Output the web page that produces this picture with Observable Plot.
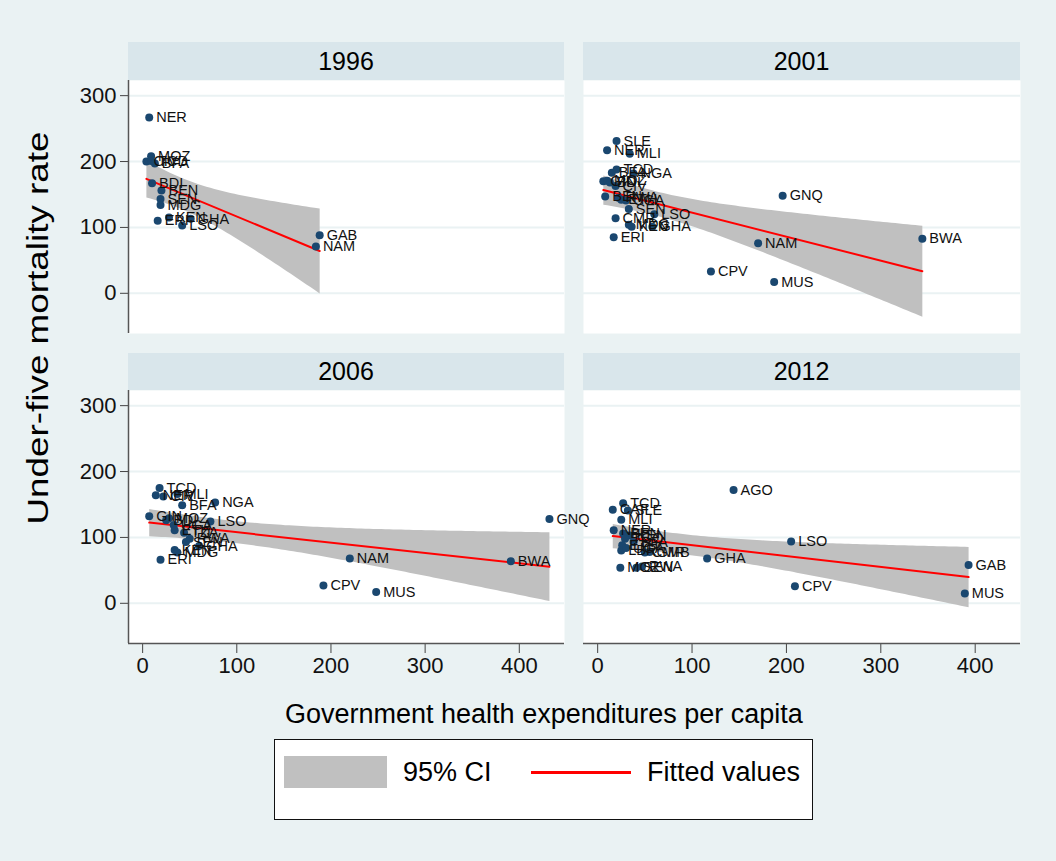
<!DOCTYPE html>
<html>
<head>
<meta charset="utf-8">
<script src="https://cdn.jsdelivr.net/npm/d3@7"></script>
<script src="https://cdn.jsdelivr.net/npm/@observablehq/plot@0.6"></script>
<style>
  html, body { margin: 0; padding: 0; background: #EAF2F3; }
  #root { position: relative; width: 1056px; height: 861px; background: #EAF2F3; overflow: hidden;
          font-family: "Liberation Sans", Arial, sans-serif; color: #000; }
  .hdr { position: absolute; background: #D9E6EB; text-align: center; font-size: 25px; line-height: 38px; }
  .panel { position: absolute; }
  .ytitle { position: absolute; font-size: 30px; white-space: nowrap; transform-origin: center center; }
  .xtitle { position: absolute; font-size: 27px; white-space: nowrap; }
  .legend { position: absolute; background: #fff; border: 1.5px solid #111; box-sizing: border-box; }
  .legend div { position: absolute; }
</style>
</head>
<body>
<div id="root"></div>
<script>
// ---- data ----
const years = ["1996", "2001", "2006", "2012"];

const iso1996  = ["NER","MOZ","CIV","TCD","BFA","BDI","BEN","SEN","MDG","ERI","KEN","GHA","LSO","GAB","NAM"];
const gov1996  = [7, 9, 4, 9, 13, 10, 20, 19, 19, 16, 28, 51, 42, 188, 184];
const u5mr1996 = [267, 208, 200, 201, 197, 167, 156, 143, 134, 110, 115, 113, 103, 88, 71];

const iso2001  = ["SLE","NER","MLI","TCD","BFA","NGA","GIN","MOZ","BDI","CIV","BEN","RWA","ETH","UGA","SEN","LSO","CMR","MDG","KEN","GHA","ERI","NAM","GNQ","BWA","CPV","MUS"];
const gov2001  = [20, 10, 34, 20, 15, 38, 6, 10, 13, 19, 8, 22, 25, 30, 33, 60, 19, 33, 36, 58, 17, 170, 196, 344, 120, 187];
const u5mr2001 = [231, 217, 212, 188, 183, 182, 170, 171, 168, 163, 147, 145, 142, 141, 128, 120, 114, 104, 101, 101, 85, 76, 148, 83, 33, 17];

const iso2006  = ["TCD","NER","CIV","MLI","BFA","NGA","GIN","MOZ","BDI","UGA","LSO","ETH","TZA","RWA","SEN","GHA","KEN","MDG","ERI","GNQ","NAM","BWA","CPV","MUS"];
const gov2006  = [18, 14, 22, 37, 42, 77, 7, 28, 25, 33, 72, 34, 44, 50, 46, 60, 34, 37, 19, 432, 220, 391, 192, 248];
const u5mr2006 = [175, 164, 162, 166, 149, 153, 132, 129, 126, 119, 124, 111, 107, 98, 93, 87, 81, 77, 66, 128, 68, 64, 27, 17];

const iso2012  = ["AGO","TCD","CAF","SLE","MLI","NER","BEN","KEN","TGO","BFA","ETH","LBR","UGA","CMR","GMB","GHA","MOZ","SEN","RWA","LSO","GAB","CPV","MUS"];
const gov2012  = [144, 27, 16, 32, 25, 17, 27, 34, 29, 38, 26, 25, 30, 50, 55, 116, 24, 41, 47, 205, 393, 209, 389];
const u5mr2012 = [172, 152, 142, 141, 127, 111, 106, 103, 98, 93, 88, 80, 84, 77, 78, 68, 54, 54, 56, 94, 58, 26, 15];

const xTicks = [0, 100, 200, 300, 400];
const yTicks = [0, 100, 200, 300];

const xTitle = "Government health expenditures per capita";
const yTitle = "Under-five mortality rate";
const legendLabels = ["95% CI", "Fitted values"];

// ---- layout ----
const X_DOMAIN = [-15, 448];
const Y_DOMAIN = [-61, 323];
const COLS = [{left: 0, width: 564, ml: 128, hdrLeft: 128, hdrWidth: 436},
              {left: 583, width: 437, ml: 0, hdrLeft: 583, hdrWidth: 437}];
const ROWS = [{top: 80, hdrTop: 42}, {top: 390, hdrTop: 353}];
const PLOT_H = 253;

const panels = [
  {year: years[0], iso: iso1996, gov: gov1996, u5mr: u5mr1996, col: 0, row: 0},
  {year: years[1], iso: iso2001, gov: gov2001, u5mr: u5mr2001, col: 1, row: 0},
  {year: years[3], iso: iso2012, gov: gov2012, u5mr: u5mr2012, col: 1, row: 1},
  {year: years[2], iso: iso2006, gov: gov2006, u5mr: u5mr2006, col: 0, row: 1}
];

const root = document.getElementById("root");

for (const p of panels) {
  const C = COLS[p.col], R = ROWS[p.row];
  const rows = p.iso.map((c, i) => ({iso: c, x: p.gov[i], y: p.u5mr[i]}));
  const isLeft = p.col === 0, isBottom = p.row === 1;

  const hdr = document.createElement("div");
  hdr.className = "hdr";
  hdr.style.left = C.hdrLeft + "px";
  hdr.style.top = R.hdrTop + "px";
  hdr.style.width = C.hdrWidth + "px";
  hdr.style.height = (R.top - R.hdrTop) + "px";
  hdr.style.lineHeight = (R.top - R.hdrTop) + "px";
  hdr.textContent = p.year;
  root.appendChild(hdr);

  const marks = [
    Plot.frame({fill: "white", stroke: "none"}),
    Plot.gridY(yTicks, {stroke: "#EAF2F3", strokeOpacity: 1, strokeWidth: 2}),
    Plot.linearRegressionY(rows, {x: "x", y: "y", ci: 0.95, stroke: "#FF0000", strokeWidth: 2,
                                  fill: "#C0C0C0", fillOpacity: 1}),
    Plot.dot(rows, {x: "x", y: "y", r: 4, fill: "#1A476F", stroke: "none"}),
    Plot.text(rows, {x: "x", y: "y", text: "iso", dx: 7, textAnchor: "start", fontSize: 14.5, fill: "#111"})
  ];
  if (isLeft) {
    marks.push(Plot.axisY(yTicks, {tickSize: 8, tickPadding: 4, fontSize: 22, stroke: "#444", fill: "#111", label: null}));
    marks.push(Plot.ruleX([X_DOMAIN[0]], {stroke: "#555", strokeWidth: 1.5}));
  }
  if (isBottom) {
    marks.push(Plot.axisX(xTicks, {tickSize: 10, tickPadding: 4, fontSize: 22, stroke: "#444", fill: "#111", label: null}));
    marks.push(Plot.ruleY([Y_DOMAIN[0]], {stroke: "#555", strokeWidth: 1.5}));
  }

  const chart = Plot.plot({
    width: C.width,
    height: PLOT_H + (isBottom ? 45 : 0),
    marginLeft: C.ml, marginRight: 0, marginTop: 0, marginBottom: isBottom ? 45 : 0,
    style: {background: "transparent", overflow: "visible", fontFamily: "'Liberation Sans', Arial, sans-serif"},
    x: Object.assign({domain: X_DOMAIN}, isBottom ? {} : {axis: null}),
    y: Object.assign({domain: Y_DOMAIN}, isLeft ? {} : {axis: null}),
    marks
  });
  const wrap = document.createElement("div");
  wrap.className = "panel";
  wrap.style.left = C.left + "px";
  wrap.style.top = R.top + "px";
  wrap.appendChild(chart);
  root.appendChild(wrap);
}

// y title (stretched along its length to match the reference)
const yt = document.createElement("div");
yt.className = "ytitle";
yt.textContent = yTitle;
root.appendChild(yt);
const ytw = yt.offsetWidth, yth = yt.offsetHeight;
const yScale = 393 / ytw;
yt.style.left = (38 - ytw / 2) + "px";
yt.style.top = (328 - yth / 2) + "px";
yt.style.transform = "rotate(-90deg) scaleX(" + yScale.toFixed(3) + ")";

// x title
const xt = document.createElement("div");
xt.className = "xtitle";
xt.textContent = xTitle;
root.appendChild(xt);
xt.style.left = (544 - xt.offsetWidth / 2) + "px";
xt.style.top = (714 - xt.offsetHeight / 2) + "px";

// legend
const lg = document.createElement("div");
lg.className = "legend";
Object.assign(lg.style, {left: "274px", top: "739px", width: "539px", height: "81px"});
lg.innerHTML =
  '<div style="left:9px;top:16px;width:103px;height:32px;background:#C0C0C0;"></div>' +
  '<div style="left:128px;top:16px;height:32px;line-height:32px;font-size:27px;">' + legendLabels[0] + '</div>' +
  '<div style="left:256px;top:30.5px;width:100px;height:3px;background:#FF0000;"></div>' +
  '<div style="left:372px;top:16px;height:32px;line-height:32px;font-size:27px;">' + legendLabels[1] + '</div>';
root.appendChild(lg);
</script>
</body>
</html>
